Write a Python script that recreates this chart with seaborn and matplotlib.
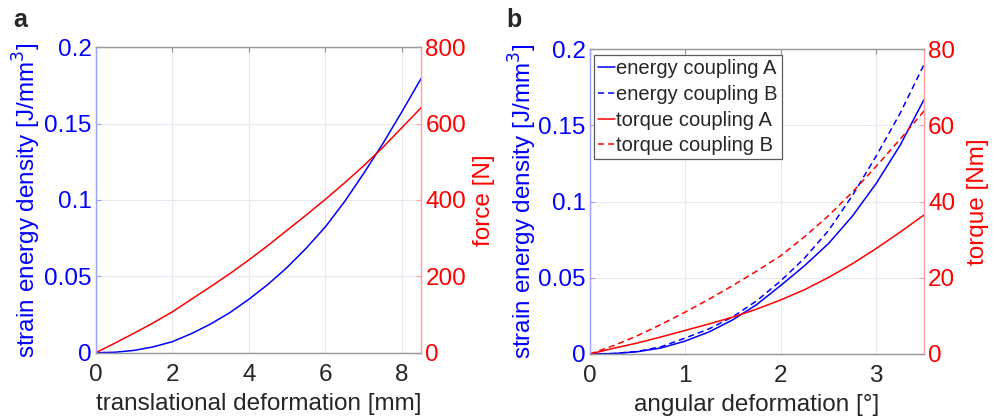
import matplotlib
matplotlib.use('Agg')
import matplotlib.pyplot as plt
import seaborn as sns

sns.set_style('white')
plt.rcParams['font.family'] = ['Liberation Sans', 'DejaVu Sans']

# Panel a: translational coupling
trans_x = [0, 0.5, 1, 1.5, 2, 2.5, 3, 3.5, 4, 4.5, 5, 5.5, 6, 6.5, 7, 7.5, 8, 8.5]
trans_energy = [0, 0.0003, 0.0015, 0.0038, 0.0072, 0.0125, 0.0188, 0.0262, 0.035,
                0.0448, 0.0559, 0.0685, 0.0825, 0.099, 0.1175, 0.137, 0.158, 0.1797]
trans_force = [0, 25, 51, 78, 107, 140, 173, 207, 243, 281, 321, 361, 402, 445, 490,
               538, 590, 642]

# Panel b: angular couplings A and B
ang_x = [0, 0.25, 0.5, 0.75, 1, 1.25, 1.5, 1.75, 2, 2.25, 2.5, 2.75, 3, 3.25, 3.5]
energy_a = [0, 0.0003, 0.0015, 0.004, 0.0085, 0.0145, 0.0225, 0.0325, 0.045, 0.058,
            0.0725, 0.0905, 0.112, 0.137, 0.167]
energy_b = [0, 0.0003, 0.0017, 0.0048, 0.0105, 0.0165, 0.0245, 0.035, 0.048, 0.063,
            0.081, 0.104, 0.130, 0.158, 0.190]
torque_a = [0, 1.5, 2.9, 4.5, 6.2, 7.9, 9.7, 11.8, 14.2, 16.9, 20.1, 23.7, 27.7, 32.0, 36.5]
torque_b = [0, 2.2, 4.8, 7.8, 11.0, 14.4, 18.0, 21.8, 25.8, 30.8, 36.3, 42.5, 49.3, 56.4, 63.8]

BLUE = '#0000ff'
RED = '#ff0000'
DARK = '#262626'
FS = 17.5
DASH = (0, (4, 2.6))

fig = plt.figure(figsize=(9.97, 4.17), dpi=100)
ax_a = fig.add_axes([0.096, 0.1542, 0.3265, 0.7324])
ax_b = fig.add_axes([0.5915, 0.1511, 0.3353, 0.7307])


def style_axes(ax, ax2, xlim, xticks, rlim, rticks, xlabel, rlabel, lx, rx):
    ax.set_xlim(*xlim)
    ax.set_ylim(0, 0.2)
    ax2.set_ylim(*rlim)
    ax.set_xticks(xticks)
    ax.set_yticks([0, 0.05, 0.1, 0.15, 0.2])
    ax.set_yticklabels(['0', '0.05', '0.1', '0.15', '0.2'])
    ax2.set_yticks(rticks)
    ax.grid(True, color='#e8e8f0', linewidth=0.8)
    ax.tick_params(axis='x', direction='in', length=3.5, top=True, color='#8c8c8c',
                   labelcolor=DARK, labelsize=FS, pad=8)
    ax.tick_params(axis='y', direction='in', length=3.5, color='#9f9fff',
                   labelcolor=BLUE, labelsize=FS, pad=3)
    ax2.tick_params(axis='y', direction='in', length=3.5, color='#ff9f9f',
                    labelcolor=RED, labelsize=FS, pad=3)
    for a in (ax, ax2):
        a.spines['top'].set_color('#9a9a9a')
        a.spines['bottom'].set_color('#9a9a9a')
        a.spines['left'].set_color('#a0a0ff')
        a.spines['right'].set_color('#ffa0a0')
        for s in a.spines.values():
            s.set_linewidth(0.9)
    ax.set_xlabel(xlabel, fontsize=FS, color=DARK, labelpad=5)
    ax.set_ylabel('strain energy density [J/mm$^3$]', fontsize=FS, color=BLUE)
    ax2.set_ylabel(rlabel, fontsize=FS, color=RED)
    ax.yaxis.set_label_coords(lx, 0.5)
    ax2.yaxis.set_label_coords(rx, 0.5)


# panel a
ax_a2 = ax_a.twinx()
sns.lineplot(x=trans_x, y=trans_energy, ax=ax_a, color=BLUE, linewidth=1.1)
sns.lineplot(x=trans_x, y=trans_force, ax=ax_a2, color=RED, linewidth=1.1)
style_axes(ax_a, ax_a2, (0, 8.5), [0, 2, 4, 6, 8], (0, 800), [0, 200, 400, 600, 800],
           'translational deformation [mm]', 'force [N]', -0.162, 1.159)

# panel b
ax_b2 = ax_b.twinx()
sns.lineplot(x=ang_x, y=energy_a, ax=ax_b, color=BLUE, linewidth=1.1, label='energy coupling A')
sns.lineplot(x=ang_x, y=energy_b, ax=ax_b, color=BLUE, linewidth=1.1, linestyle=DASH,
             label='energy coupling B')
sns.lineplot(x=ang_x, y=torque_a, ax=ax_b2, color=RED, linewidth=1.1, label='torque coupling A')
sns.lineplot(x=ang_x, y=torque_b, ax=ax_b2, color=RED, linewidth=1.1, linestyle=DASH,
             label='torque coupling B')
style_axes(ax_b, ax_b2, (0, 3.5), [0, 1, 2, 3], (0, 80), [0, 20, 40, 60, 80],
           'angular deformation [°]', 'torque [Nm]', -0.152, 1.129)

h1, l1 = ax_b.get_legend_handles_labels()
h2, l2 = ax_b2.get_legend_handles_labels()
ax_b.get_legend().remove()
ax_b2.get_legend().remove()
leg = ax_b2.legend(h1 + h2, l1 + l2, loc='upper left', bbox_to_anchor=(0.013, 0.98),
                   fontsize=14.5, frameon=True, fancybox=False, handlelength=0.85,
                   handletextpad=0.05, borderpad=0.2, labelspacing=0.33, borderaxespad=0)
leg.get_frame().set_edgecolor('#5a5a5a')
leg.get_frame().set_linewidth(0.9)
leg.get_frame().set_alpha(1)
for t in leg.get_texts():
    t.set_color(DARK)

fig.text(0.013, 0.952, 'a', fontsize=18, fontweight='bold', va='center', color=DARK)
fig.text(0.508, 0.952, 'b', fontsize=18, fontweight='bold', va='center', color=DARK)

fig.savefig('out.png', dpi=100)
